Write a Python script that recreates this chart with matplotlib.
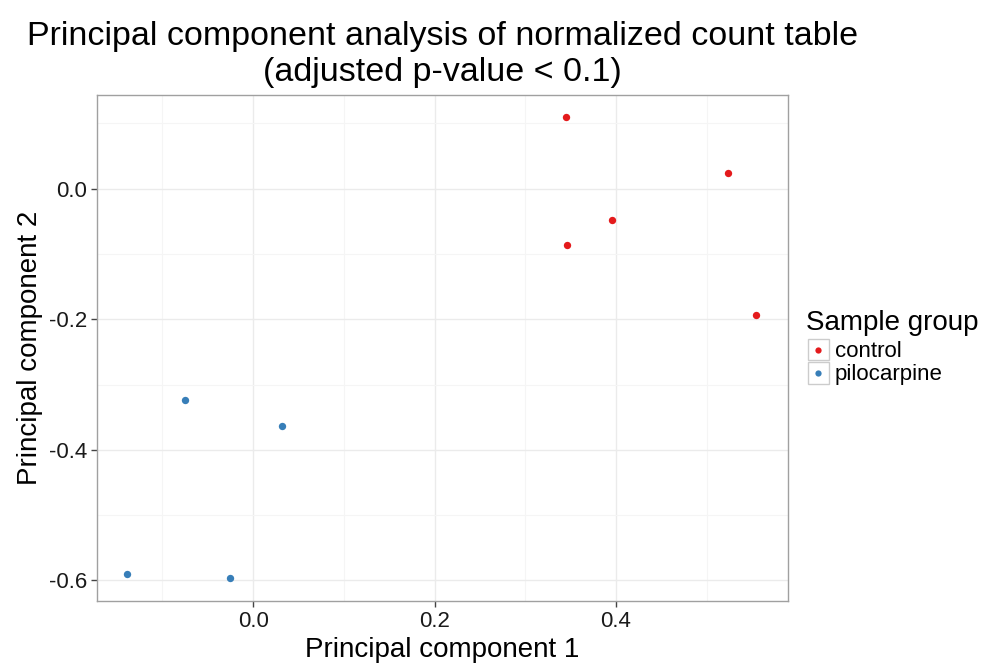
import matplotlib
matplotlib.use("Agg")
import matplotlib.pyplot as plt
from matplotlib.patches import Rectangle
from matplotlib.legend_handler import HandlerBase
from matplotlib.lines import Line2D

plt.rcParams["font.family"] = ["Liberation Sans", "DejaVu Sans"]

# PCA coordinates
groups = ["control", "pilocarpine"]
pc1_control = [0.345, 0.523, 0.396, 0.346, 0.554]
pc2_control = [0.110, 0.024, -0.048, -0.086, -0.193]
pc1_pilo = [-0.075, 0.032, -0.139, -0.025]
pc2_pilo = [-0.324, -0.363, -0.590, -0.596]
colors = ["#E41A1C", "#377EB8"]

x_ticks = [0.0, 0.2, 0.4]
y_ticks = [0.0, -0.2, -0.4, -0.6]
x_minor = [-0.1, 0.1, 0.3, 0.5]
y_minor = [0.1, -0.1, -0.3, -0.5]


class KeyHandler(HandlerBase):
    # ggplot-style legend key: light box with a dot in the middle
    def create_artists(self, legend, orig_handle, xdescent, ydescent,
                       width, height, fontsize, trans):
        size = height
        x0 = -xdescent + (width - size) / 2
        y0 = -ydescent
        box = Rectangle((x0, y0), size, size, facecolor="white",
                        edgecolor="#CCCCCC", lw=1.0, transform=trans)
        dot = Line2D([x0 + size / 2], [y0 + size / 2], marker="o",
                     ls="", ms=4.5, mec="none",
                     mfc=orig_handle.get_markerfacecolor(), transform=trans)
        return [box, dot]


fig = plt.figure(figsize=(9.86, 6.68), dpi=100)
ax = fig.add_axes([0.0984, 0.1003, 0.7008, 0.7579])

ax.scatter(pc1_control, pc2_control, s=28, color=colors[0], lw=0, zorder=3)
ax.scatter(pc1_pilo, pc2_pilo, s=28, color=colors[1], lw=0, zorder=3)

ax.set_xlim(-0.172, 0.5895)
ax.set_ylim(-0.6314, 0.144)

ax.set_xticks(x_ticks)
ax.set_xticklabels([f"{v:.1f}" for v in x_ticks])
ax.set_yticks(y_ticks)
ax.set_yticklabels([f"{v:.1f}" for v in y_ticks])
ax.set_xticks(x_minor, minor=True)
ax.set_yticks(y_minor, minor=True)

ax.grid(True, which="major", color="#EBEBEB", lw=1.0)
ax.grid(True, which="minor", color="#F5F5F5", lw=0.8)
ax.set_axisbelow(True)

for sp in ax.spines.values():
    sp.set_color("#A0A0A0")
    sp.set_linewidth(1.0)

ax.tick_params(which="major", length=4, width=1, color="#444444",
               labelsize=16, labelcolor="#1A1A1A", pad=3)
ax.tick_params(which="minor", length=0)

ax.set_xlabel("Principal component 1", fontsize=20, labelpad=4)
ax.set_ylabel("Principal component 2", fontsize=20, labelpad=4)
ax.set_title("Principal component analysis of normalized count table\n"
             "(adjusted p-value < 0.1)", fontsize=24.5, pad=10, linespacing=1.22)

handles = [Line2D([], [], marker="o", ls="", mfc=c, mec="none") for c in colors]
leg = ax.legend(handles, groups, title="Sample group",
                handler_map={Line2D: KeyHandler()},
                loc="center left", bbox_to_anchor=(1.026, 0.5),
                frameon=False, fontsize=16, title_fontsize=20,
                handlelength=1.1, handleheight=1.1, handletextpad=0.2,
                labelspacing=0.0, borderaxespad=0.0, borderpad=0.0)
leg._legend_box.align = "left"
leg._legend_box.sep = 2

fig.savefig("out.png", dpi=100)
